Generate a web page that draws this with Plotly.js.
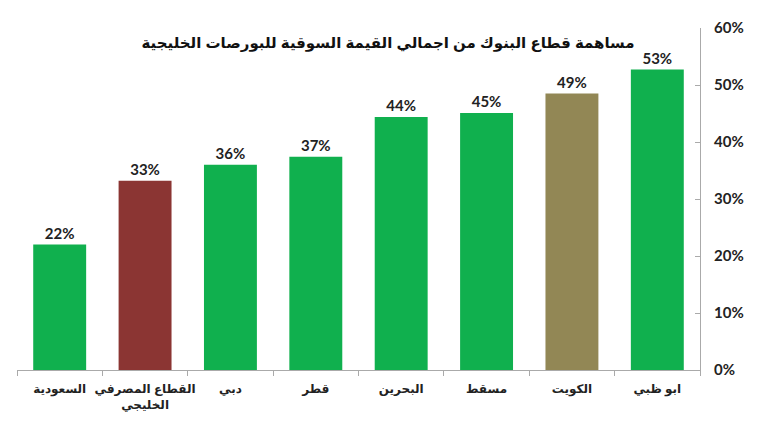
<!DOCTYPE html>
<html><head><meta charset="utf-8">
<script src="https://cdn.plot.ly/plotly-3.0.1.min.js"></script>
<style>body{margin:0;background:#fff}#c{width:770px;height:426px}</style>
</head><body><div id="c"></div>
<script>
const categories = ['السعودية','القطاع المصرفي<br>الخليجي','دبي','قطر','البحرين','مسقط','الكويت','ابو ظبي'];
const values = [0.22, 0.332, 0.36, 0.374, 0.444, 0.451, 0.485, 0.527];
const valueLabels = ['22%','33%','36%','37%','44%','45%','49%','53%'];
const barColors = ['#10b04e','#8b3533','#10b04e','#10b04e','#10b04e','#10b04e','#928755','#10b04e'];
const yTickVals = [0,0.1,0.2,0.3,0.4,0.5,0.6];
const yTickText = ['0%','10%','20%','30%','40%','50%','60%'];
const titleText = 'مساهمة قطاع البنوك من اجمالي القيمة السوقية للبورصات الخليجية';

Plotly.newPlot('c', [{
  type:'bar', x:categories.map(c=>'<b>'+c+'</b>'), y:values,
  marker:{color:barColors},
  text:valueLabels.map(t=>'<b>'+t+'</b>'), textposition:'outside', cliponaxis:false,
  textfont:{family:'Lato, "Open Sans", sans-serif', size:15, color:'#222'},
  width:0.62, hoverinfo:'none'
}], {
  width:770, height:426,
  margin:{l:17, r:70, t:28, b:56},
  paper_bgcolor:'#fff', plot_bgcolor:'#fff',
  showlegend:false,
  title:{text:'<b>'+titleText+'</b>', x:0.504, xanchor:'center', y:0.9, yanchor:'middle', yref:'container',
    font:{family:'Arial, "DejaVu Sans", sans-serif', size:15, color:'#111'}},
  xaxis:{showline:true, linecolor:'#aaa', linewidth:1, ticks:'outside', tickson:'boundaries', ticklen:5, tickcolor:'#aaa',
    tickangle:0, automargin:false, ticklabelstandoff:8,
    tickfont:{family:'Arial, "DejaVu Sans", sans-serif', size:12, color:'#222'}, showgrid:false},
  yaxis:{side:'right', range:[0,0.6], tickvals:yTickVals, ticktext:yTickText.map(t=>'<b>'+t+'</b>'), showline:true, linecolor:'#aaa', linewidth:1,
    ticks:'inside', ticklen:5, tickcolor:'#aaa', showgrid:false, zeroline:false, ticklabelstandoff:10,
    tickfont:{family:'Lato, "Open Sans", sans-serif', size:15, color:'#222'}}
}, {staticPlot:true});
</script></body></html>
